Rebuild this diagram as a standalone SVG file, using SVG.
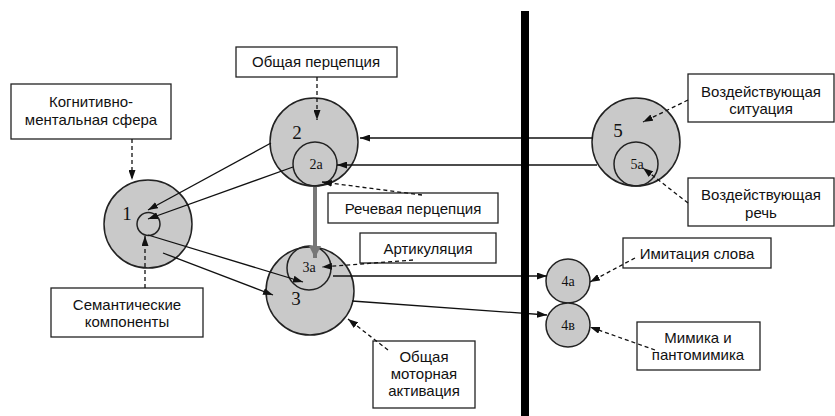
<svg xmlns="http://www.w3.org/2000/svg" width="835" height="416" viewBox="0 0 835 416">
<defs>
<style>
.box{fill:#fff;stroke:#222;stroke-width:1.3}
.t{font-family:"Liberation Sans",Arial,sans-serif;font-size:15px;fill:#111;text-anchor:middle}
.c{fill:#c9c9c9;stroke:#222;stroke-width:1.5}
.ci{fill:none;stroke:#222;stroke-width:1.5}
.n{font-family:"Liberation Serif","Times New Roman",serif;font-size:19px;fill:#111;text-anchor:middle}
.ns{font-family:"Liberation Serif","Times New Roman",serif;font-size:14px;fill:#111;text-anchor:middle}
.ln{stroke:#111;stroke-width:1.3;fill:none;marker-end:url(#ah)}
.dl{stroke:#111;stroke-width:1.3;fill:none;stroke-dasharray:4,3;marker-end:url(#ah)}
</style>
<marker id="ah" viewBox="0 0 10 7" refX="10" refY="3.5" markerWidth="10" markerHeight="7" markerUnits="userSpaceOnUse" orient="auto">
<path d="M0,0 L10,3.5 L0,7 z" fill="#111"/>
</marker>
<marker id="gh" viewBox="0 0 10 10" refX="10" refY="5" markerWidth="14" markerHeight="12" markerUnits="userSpaceOnUse" orient="auto">
<path d="M0,0 L10,5 L0,10 z" fill="#777"/>
</marker>
</defs>
<rect x="0" y="0" width="835" height="416" fill="#fff"/>

<g id="node1">
<circle class="c" cx="148" cy="224" r="44"/>
<circle class="ci" cx="148.5" cy="224" r="11.5"/>
<text class="n" x="127" y="220">1</text>
</g>
<g id="node2">
<circle class="c" cx="314" cy="142" r="44"/>
<circle class="ci" cx="315" cy="164" r="22"/>
<text class="n" x="297" y="139">2</text>
<text class="ns" x="316" y="169">2а</text>
</g>
<g id="node3">
<circle class="c" cx="310" cy="291" r="44"/>
<circle class="ci" cx="309" cy="268" r="22"/>
<text class="n" x="296" y="305">3</text>
<text class="ns" x="309" y="272">3а</text>
</g>
<g id="node5">
<circle class="c" cx="636" cy="142" r="44"/>
<circle class="ci" cx="636" cy="164" r="22"/>
<text class="n" x="618" y="137">5</text>
<text class="ns" x="637" y="169">5а</text>
</g>
<g id="node4a">
<circle class="c" cx="568" cy="281" r="22"/>
<text class="ns" x="568" y="286">4а</text>
</g>
<g id="node4v">
<circle class="c" cx="568" cy="325" r="22"/>
<text class="ns" x="568" y="330">4в</text>
</g>

<g id="box-kognit">
<rect class="box" x="11" y="84" width="160" height="55"/>
<text class="t" x="91" y="107">Когнитивно-</text>
<text class="t" x="91" y="125">ментальная  сфера</text>
</g>
<g id="box-obsh-perc">
<rect class="box" x="236" y="47" width="161" height="30"/>
<text class="t" x="316" y="67">Общая перцепция</text>
</g>
<g id="box-rech-perc">
<rect class="box" x="328" y="193" width="170" height="30"/>
<text class="t" x="413" y="214">Речевая перцепция</text>
</g>
<g id="box-artik">
<rect class="box" x="360" y="233" width="136" height="30"/>
<text class="t" x="428" y="254">Артикуляция</text>
</g>
<g id="box-motor">
<rect class="box" x="373" y="341" width="102" height="67"/>
<text class="t" x="424" y="362">Общая</text>
<text class="t" x="424" y="379">моторная</text>
<text class="t" x="424" y="396">активация</text>
</g>
<g id="box-semant">
<rect class="box" x="51" y="288" width="152" height="49"/>
<text class="t" x="127" y="310">Семантические</text>
<text class="t" x="127" y="327">компоненты</text>
</g>
<g id="box-sit">
<rect class="box" x="688" y="74" width="146" height="48"/>
<text class="t" x="761" y="97">Воздействующая</text>
<text class="t" x="761" y="114">ситуация</text>
</g>
<g id="box-rech">
<rect class="box" x="688" y="178" width="146" height="48"/>
<text class="t" x="761" y="200">Воздействующая</text>
<text class="t" x="761" y="218">речь</text>
</g>
<g id="box-imit">
<rect class="box" x="623" y="238" width="148" height="30"/>
<text class="t" x="697" y="259">Имитация слова</text>
</g>
<g id="box-mimika">
<rect class="box" x="637" y="322" width="123" height="48"/>
<text class="t" x="698" y="343">Мимика и</text>
<text class="t" x="698" y="360">пантомимика</text>
</g>

<g id="connectors">
<line class="ln" x1="271" y1="143" x2="148" y2="210"/>
<line class="ln" x1="293" y1="167" x2="148" y2="219"/>
<line class="ln" x1="148" y1="235" x2="303" y2="282"/>
<line class="ln" x1="163" y1="253" x2="273" y2="295"/>
<line class="ln" x1="593" y1="138" x2="360" y2="138"/>
<line class="ln" x1="597" y1="165" x2="337" y2="165"/>
<line class="ln" x1="333" y1="276" x2="547" y2="276"/>
<line class="ln" x1="352" y1="301" x2="547" y2="315"/>
<line x1="315" y1="187" x2="315" y2="258" stroke="#777" stroke-width="4" marker-end="url(#gh)"/>
<line class="dl" x1="132" y1="139" x2="132" y2="180"/>
<line class="dl" x1="145" y1="288" x2="145" y2="236"/>
<line class="dl" x1="317" y1="77" x2="317" y2="120"/>
<line class="dl" x1="422" y1="195" x2="322" y2="182"/>
<line class="dl" x1="413" y1="260" x2="322" y2="267"/>
<line class="dl" x1="388" y1="350" x2="348" y2="319"/>
<line class="dl" x1="635" y1="258" x2="590" y2="282"/>
<line class="dl" x1="655" y1="350" x2="590" y2="327"/>
<line class="dl" x1="688" y1="100" x2="643" y2="122"/>
<line class="dl" x1="688" y1="203" x2="643" y2="168"/>
</g>

<rect id="divider" x="521" y="11" width="8" height="405" fill="#000"/>
</svg>
